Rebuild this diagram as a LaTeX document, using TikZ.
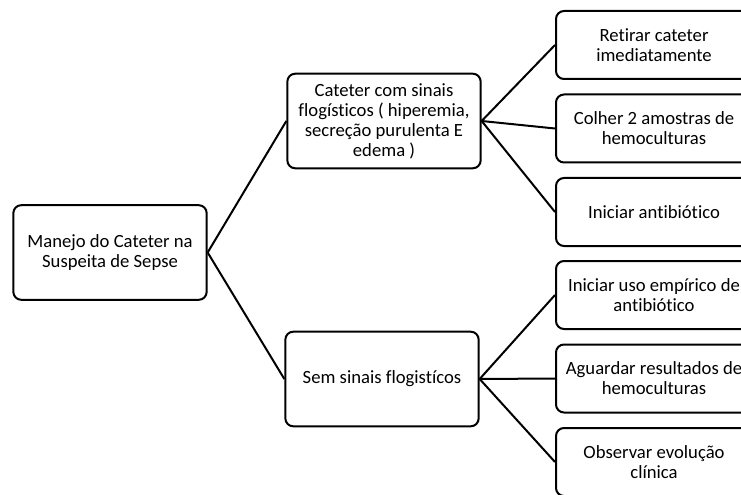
\documentclass[tikz,border=0pt]{standalone}
\usepackage{fontspec}
\setmainfont{Carlito}[Ligatures=NoCommon]
\usepackage{tikz}
\usetikzlibrary{positioning}

\begin{document}
\begin{tikzpicture}[
    x=0.75pt, y=-0.75pt,
    box/.style={rectangle, draw=black, line width=1.5pt, rounded corners=6pt, fill=white, align=center, font=\fontsize{14}{15}\selectfont, inner sep=1pt},
    mainbox/.style={box, minimum width=145pt, minimum height=71pt},
    leafbox/.style={box, minimum width=147pt, minimum height=51pt},
    link/.style={draw=black, line width=1.5pt}
]
    \useasboundingbox (0,0) rectangle (741,495);
    \clip (0,0) rectangle (741,495);

    \node[mainbox] (root) at (110,252.5) {Manejo do Cateter na\\Suspeita de Sepse};

    \node[mainbox] (comsinais) at (384,121) {Cateter com sinais\\flogísticos ( hiperemia,\\secreção purulenta E\\edema )};
    \node[mainbox] (semsinais) at (382,379) {Sem sinais flogistícos};

    % condutas com sinais
    \node[leafbox] (retirar) at (654,45) {Retirar cateter\\imediatamente};
    \node[leafbox] (colher) at (654,128.5) {Colher 2 amostras de\\hemoculturas};
    \node[leafbox] (iniciar) at (654,212) {Iniciar antibiótico};

    % condutas sem sinais
    \node[leafbox] (empirico) at (654,295) {Iniciar uso empírico de\\antibiótico};
    \node[leafbox] (aguardar) at (654,378.5) {Aguardar resultados de\\hemoculturas};
    \node[leafbox] (observar) at (654,462) {Observar evolução\\clínica};

    \draw[link] (root.east) -- (comsinais.west);
    \draw[link] (root.east) -- (semsinais.west);
    \foreach \leaf in {retirar, colher, iniciar}
        \draw[link] (comsinais.east) -- (\leaf.west);
    \foreach \leaf in {empirico, aguardar, observar}
        \draw[link] (semsinais.east) -- (\leaf.west);
\end{tikzpicture}
\end{document}
